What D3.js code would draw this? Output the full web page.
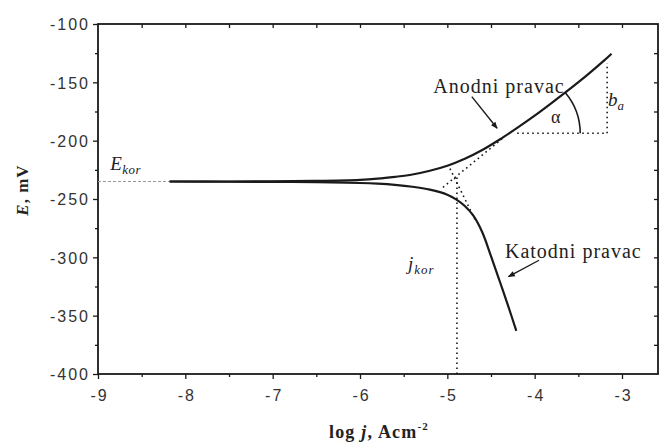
<!DOCTYPE html>
<html><head><meta charset="utf-8">
<script src="https://cdn.jsdelivr.net/npm/d3@7/dist/d3.min.js"></script>
<style>body{margin:0;background:#fff;}svg{display:block;}</style>
</head><body>
<svg id="c" width="659" height="443"></svg>
<script>
// ---- data ----
const xTicks = [-9, -8, -7, -6, -5, -4, -3];
const yTicks = [-100, -150, -200, -250, -300, -350, -400];
const xMinor = [-8.5, -7.5, -6.5, -5.5, -4.5, -3.5, -2.5];
const yMinor = [-125, -175, -225, -275, -325, -375];
// polarisation curve, anodic branch [log j, E mV]
const anodic = [[-8.18,-235],[-7.5,-235],[-7.0,-234.8],[-6.5,-234.5],[-6.0,-233.6],[-5.8,-232.6],[-5.6,-231],[-5.4,-229],[-5.2,-225.8],[-5.0,-221.5],[-4.8,-215.5],[-4.6,-208],[-4.4,-199],[-4.2,-189],[-4.0,-178.5],[-3.8,-167.3],[-3.6,-155.8],[-3.4,-143.8],[-3.2,-131],[-3.12,-125.5]];
// cathodic branch
const cathodic = [[-8.18,-235],[-7.5,-235.2],[-7.0,-235.3],[-6.5,-235.5],[-6.0,-236.3],[-5.8,-236.9],[-5.6,-237.9],[-5.4,-239.5],[-5.2,-242],[-5.0,-246.3],[-4.9,-250.3],[-4.8,-256],[-4.7,-264.5],[-4.6,-278.5],[-4.5,-299],[-4.4,-320.5],[-4.3,-342.5],[-4.21,-363]];
// Tafel extrapolations and construction lines (dotted)
const anodicTafel = [[-5.05,-240],[-4.35,-197]];
const cathodicTafel = [[-4.97,-224],[-4.68,-268]];
const jkorLine = [[-4.89,-400],[-4.89,-229]];
const slopeBox = [[-4.2,-193.7],[-3.17,-193.7],[-3.17,-133.5]];
const ekorLine = [[-9,-235],[-8.18,-235]];
// annotation anchors [log j, E]
const anodArrow = [[-4.72,-162.3],[-4.43,-189.4]];
const katArrow = [[-3.95,-302.5],[-4.30,-316.6]];

// ---- layout ----
const W = 659, H = 443;
const svg = d3.select('#c');
svg.append('rect').attr('width', W).attr('height', H).attr('fill', '#fff');
const x = d3.scaleLinear().domain([-9, -3]).range([98, 622]);
const y = d3.scaleLinear().domain([-400, -100]).range([374, 24]);
const xR = x.invert(658);
const X0 = x(-9), X1 = x(xR), Y0 = y(-400), Y1 = y(-100);

const g = svg.append('g');
const ink = '#1a1a1a';
const sans = "'Liberation Sans', Arial, sans-serif";
const serif = "'Liberation Serif', 'Times New Roman', serif";
const fmt = d => String(d);

function styleAxis(sel) {
  sel.select('.domain').remove();
  sel.selectAll('line').attr('stroke', ink).attr('stroke-width', 1.3);
  sel.selectAll('text').attr('font-family', sans).attr('font-size', 16).attr('fill', '#333').attr('letter-spacing', 2);
}
const xb = g.append('g').attr('transform', `translate(0,${Y0})`)
  .call(d3.axisBottom(x).tickValues(xTicks).tickFormat(fmt).tickSize(5).tickPadding(11));
styleAxis(xb);
xb.selectAll('text').attr('dx', 1);
const xbm = g.append('g').attr('transform', `translate(0,${Y0})`)
  .call(d3.axisBottom(x).tickValues(xMinor.filter(v => v < xR)).tickFormat('').tickSize(3));
styleAxis(xbm);
const yl = g.append('g').attr('transform', `translate(${X0},0)`)
  .call(d3.axisLeft(y).tickValues(yTicks).tickFormat(fmt).tickSize(5).tickPadding(3));
styleAxis(yl);
yl.selectAll('text').attr('dy', '0.36em');
const ylm = g.append('g').attr('transform', `translate(${X0},0)`)
  .call(d3.axisLeft(y).tickValues(yMinor).tickFormat('').tickSize(3));
styleAxis(ylm);
const xt = g.append('g').attr('transform', `translate(0,${Y1})`)
  .call(d3.axisBottom(x).tickValues(xTicks.concat(xMinor).filter(v => v > -9 && v < xR)).tickFormat('').tickSize(4));
styleAxis(xt);
const yr = g.append('g').attr('transform', `translate(${X1},0)`)
  .call(d3.axisLeft(y).tickValues(yTicks.concat(yMinor).filter(v => v > -400 && v < -100)).tickFormat('').tickSize(4));
styleAxis(yr);
g.append('rect').attr('x', X0).attr('y', Y1).attr('width', X1 - X0).attr('height', Y0 - Y1)
  .attr('fill', 'none').attr('stroke', ink).attr('stroke-width', 1.8);

const line = d3.line().x(d => x(d[0])).y(d => y(d[1]));
const smooth = d3.line().x(d => x(d[0])).y(d => y(d[1])).curve(d3.curveCatmullRom.alpha(0.5));
g.append('path').attr('d', line(ekorLine)).attr('fill', 'none').attr('stroke', '#999')
  .attr('stroke-width', 1).attr('stroke-dasharray', '3,2');
[anodicTafel, cathodicTafel, jkorLine, slopeBox].forEach(d => g.append('path').attr('d', line(d))
  .attr('fill', 'none').attr('stroke', ink).attr('stroke-width', 1.6).attr('stroke-dasharray', '1.6,3.4'));
g.append('path').attr('d', smooth(anodic)).attr('fill', 'none').attr('stroke', ink).attr('stroke-width', 2.2);
g.append('path').attr('d', smooth(cathodic)).attr('fill', 'none').attr('stroke', ink).attr('stroke-width', 2.2);

// angle arc
const cx = x(slopeBox[0][0]), cy = y(slopeBox[0][1]);
const ang = Math.atan2(y(-125.5) - y(-193.7), x(-3.12) - x(-4.2));
const r = 63;
g.append('path')
  .attr('d', `M${cx + r},${cy} A${r},${r} 0 0 0 ${cx + r * Math.cos(ang)},${cy + r * Math.sin(ang)}`)
  .attr('fill', 'none').attr('stroke', ink).attr('stroke-width', 1.6);

// arrows
const defs = svg.append('defs');
defs.append('marker').attr('id', 'ah').attr('viewBox', '0 0 10 10').attr('refX', 9).attr('refY', 5)
  .attr('markerWidth', 9).attr('markerHeight', 7).attr('orient', 'auto').attr('markerUnits', 'userSpaceOnUse')
  .append('path').attr('d', 'M0,1 L10,5 L0,9 Z').attr('fill', ink);
[anodArrow, katArrow].forEach(a => g.append('path').attr('d', line(a)).attr('stroke', ink)
  .attr('stroke-width', 1.4).attr('fill', 'none').attr('marker-end', 'url(#ah)'));

function txt(xv, yv, size, parts, opts = {}) {
  const t = g.append('text').attr('x', x(xv)).attr('y', y(yv)).attr('font-family', serif)
    .attr('font-size', size).attr('fill', '#222');
  if (opts.anchor) t.attr('text-anchor', opts.anchor);
  if (opts.ls) t.attr('letter-spacing', opts.ls);
  parts.forEach(p => {
    const s = t.append('tspan').text(p.t);
    if (p.it) s.attr('font-style', 'italic');
    if (p.sub) s.attr('font-size', size * 0.68).attr('dy', p.sub);
  });
  return t;
}
txt(-5.16, -159, 20, [{t: 'Anodni pravac'}], {ls: 1});
txt(-4.34, -300.6, 20, [{t: 'Katodni pravac'}], {ls: 1});
txt(-8.86, -225, 19, [{t: 'E', it: true}, {t: 'kor', it: true, sub: 4}], {ls: 0.5});
txt(-5.45, -310.9, 19, [{t: 'j', it: true}, {t: 'kor', it: true, sub: 4}], {ls: 1});
txt(-3.76, -184.9, 18, [{t: 'α'}], {anchor: 'middle'});
txt(-3.16, -170.3, 19, [{t: 'b', it: true}, {t: 'a', it: true, sub: 4}]);

svg.append('text').attr('x', 379).attr('y', 438).attr('text-anchor', 'middle')
  .attr('font-family', serif).attr('font-weight', 'bold').attr('font-size', 18).attr('fill', '#222')
  .attr('letter-spacing', 1.2)
  .call(t => {
    t.append('tspan').text('log ');
    t.append('tspan').text('j').attr('font-style', 'italic');
    t.append('tspan').text(', Acm');
    t.append('tspan').text('-2').attr('font-size', 11).attr('dy', -8);
  });
svg.append('text').attr('transform', 'translate(28,190) rotate(-90)').attr('text-anchor', 'middle')
  .attr('font-family', serif).attr('font-weight', 'bold').attr('font-size', 17).attr('fill', '#222')
  .attr('letter-spacing', 1)
  .call(t => {
    t.append('tspan').text('E').attr('font-style', 'italic');
    t.append('tspan').text(', mV');
  });
</script>
</body></html>
